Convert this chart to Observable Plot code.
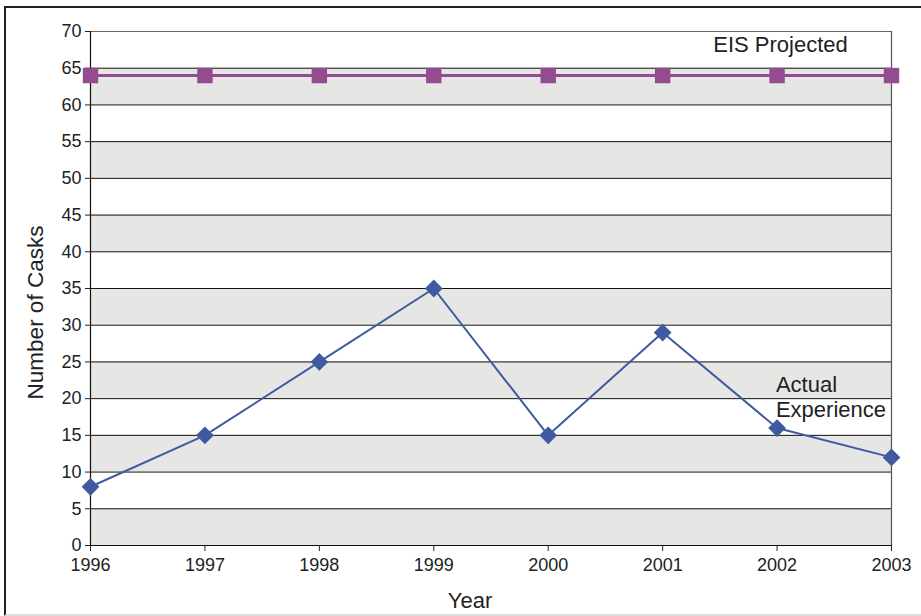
<!DOCTYPE html>
<html>
<head>
<meta charset="utf-8">
<script src="https://cdn.jsdelivr.net/npm/d3@7"></script>
<script src="https://cdn.jsdelivr.net/npm/@observablehq/plot@0.6"></script>
<style>
  html, body { margin: 0; padding: 0; background: #fff; overflow: hidden; }
  #wrap { position: relative; width: 921px; height: 616px; }
  #frame { position: absolute; left: 4px; top: 6px; width: 940px; height: 606px;
           border-left: 2px solid #222; border-top: 2px solid #222; border-bottom: 2px solid #ddd;
           pointer-events: none; }
</style>
</head>
<body>
<div id="wrap"><div id="frame"></div></div>
<script>
const years = [1996, 1997, 1998, 1999, 2000, 2001, 2002, 2003];
const actual = [8, 15, 25, 35, 15, 29, 16, 12];
const projected = [64, 64, 64, 64, 64, 64, 64, 64];
const yTicks = [0, 5, 10, 15, 20, 25, 30, 35, 40, 45, 50, 55, 60, 65, 70];
const grayBandStarts = [0, 10, 20, 30, 40, 50, 60];
const centeredLabels = [{text: "EIS Projected", x: 2002.03, y: 68.1}];
const leftLabels = [
  {text: "Actual", x: 2001.99, y: 21.8},
  {text: "Experience", x: 2001.99, y: 18.4}
];

const actualData = years.map((x, i) => ({x, y: actual[i]}));
const projData = years.map((x, i) => ({x, y: projected[i]}));
const bands = grayBandStarts.map(s => ({y1: s, y2: s + 5}));

const blue = "#3f5aa0";
const purple = "#944b8f";
const font = "'Liberation Sans', Arial, sans-serif";

const chart = Plot.plot({
  width: 921,
  height: 616,
  marginLeft: 90,
  marginRight: 30,
  marginTop: 31,
  marginBottom: 71,
  style: {fontFamily: font, fontSize: "18px", color: "#222", background: "transparent"},
  x: {type: "linear", domain: [1996, 2003]},
  y: {domain: [0, 70]},
  marks: [
    Plot.rectY(bands, {x1: 1996, x2: 2003, y1: "y1", y2: "y2", fill: "#e6e6e5"}),
    Plot.ruleY(yTicks.filter(d => d > 0 && d < 70), {stroke: "#111", strokeWidth: 1}),
    Plot.ruleY([70], {stroke: "#666", strokeWidth: 1.2}),
    Plot.ruleX([2003], {stroke: "#555", strokeWidth: 1.2}),
    Plot.ruleX([1996], {stroke: "#111", strokeWidth: 1.2}),
    Plot.ruleY([0], {stroke: "#111", strokeWidth: 1.2}),
    Plot.axisY({ticks: yTicks, tickSize: 5, tickPadding: 4, label: null, fontSize: 18}),
    Plot.axisX({ticks: years, tickFormat: "d", tickSize: 6, tickPadding: 7, label: null, fontSize: 18}),
    Plot.line(projData, {x: "x", y: "y", stroke: purple, strokeWidth: 3}),
    Plot.dot(projData, {x: "x", y: "y", symbol: "square", r: 8.7, fill: purple, stroke: "none"}),
    Plot.line(actualData, {x: "x", y: "y", stroke: blue, strokeWidth: 2}),
    Plot.dot(actualData, {x: "x", y: "y", symbol: "diamond2", r: 8, fill: blue, stroke: "none"}),
    Plot.text(centeredLabels, {x: "x", y: "y", text: "text", textAnchor: "middle", fontSize: 22, fill: "#222"}),
    Plot.text(leftLabels, {x: "x", y: "y", text: "text", textAnchor: "start", fontSize: 22, fill: "#222"}),
    Plot.text(["Year"], {frameAnchor: "bottom", dy: 62, dx: -21, fontSize: 22, fill: "#222"}),
    Plot.text(["Number of Casks"], {frameAnchor: "left", textAnchor: "middle", dx: -55, dy: 24, rotate: -90, fontSize: 22.5, fill: "#222"})
  ]
});
document.getElementById("wrap").prepend(chart);
</script>
</body>
</html>
